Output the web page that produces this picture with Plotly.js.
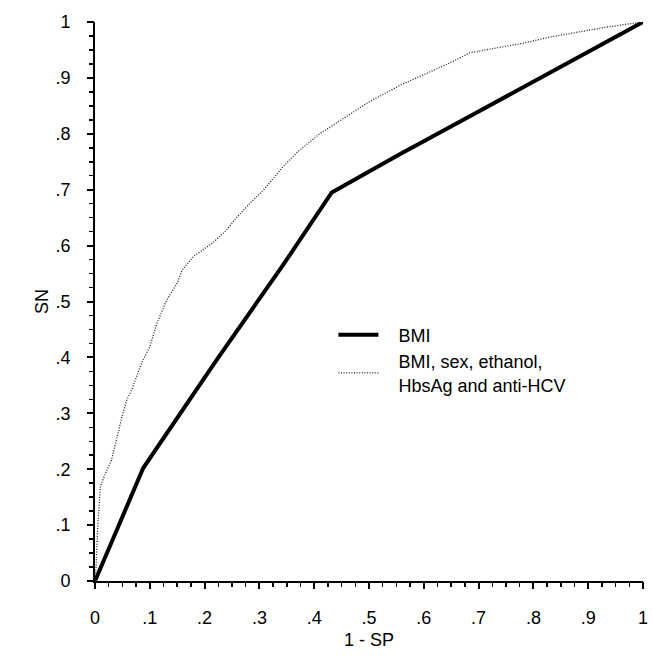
<!DOCTYPE html>
<html>
<head>
<meta charset="utf-8">
<script src="https://cdn.plot.ly/plotly-3.0.1.min.js"></script>
<style>html,body{margin:0;padding:0;background:#fff;}#chart{width:652px;height:670px;}</style>
</head>
<body>
<div id="chart"></div>
<script>
// ROC curve: BMI alone
var bmiX = [0, 0.088, 0.223, 0.343, 0.432, 0.557, 0.7, 0.85, 1.0];
var bmiY = [0, 0.202, 0.397, 0.565, 0.695, 0.764, 0.840, 0.920, 1.0];

// ROC curve: combined model
var combX = [0, 0.002, 0.005, 0.01, 0.018, 0.03, 0.04, 0.049, 0.058, 0.067, 0.085, 0.1, 0.113, 0.131, 0.15, 0.159, 0.179, 0.197, 0.215, 0.24, 0.259, 0.283, 0.307, 0.343, 0.369, 0.41, 0.45, 0.5, 0.557, 0.599, 0.648, 0.684, 0.739, 0.781, 0.83, 0.88, 0.934, 1.0];
var combY = [0, 0.025, 0.097, 0.17, 0.19, 0.216, 0.256, 0.293, 0.324, 0.342, 0.39, 0.419, 0.461, 0.503, 0.533, 0.556, 0.58, 0.592, 0.605, 0.628, 0.651, 0.676, 0.699, 0.741, 0.767, 0.80, 0.825, 0.857, 0.887, 0.905, 0.927, 0.945, 0.955, 0.962, 0.973, 0.982, 0.991, 1.0];

// tick label text (default label -> shown label)
var tickFrom = ['0.1', '0.2', '0.3', '0.4', '0.5', '0.6', '0.7', '0.8', '0.9'];
var tickTo = ['.1', '.2', '.3', '.4', '.5', '.6', '.7', '.8', '.9'];

var seriesNames = ['BMI', 'BMI, sex, ethanol,', 'HbsAg and anti-HCV'];

var alias = {};
tickFrom.forEach(function (f, i) { alias[f] = tickTo[i]; });

var font = {family: '"Liberation Sans", Arial, sans-serif', size: 18, color: '#000'};
var pad = '\u00a0\u00a0\u00a0';

var traces = [
  {x: bmiX, y: bmiY, mode: 'lines', name: pad + seriesNames[0],
   line: {color: '#000', width: 4}},
  {x: combX, y: combY, xaxis: 'x2', yaxis: 'y2', mode: 'lines',
   name: pad + seriesNames[1] + '<br>' + pad + seriesNames[2],
   line: {color: '#222', width: 1.3, dash: '1px,1.6px'}}
];

// main axis: line, minor ticks, labels (pushed out by long invisible major ticks) and title
function labelAxis(titleText) {
  return {
    range: [0, 1],
    tickmode: 'linear',
    tick0: 0,
    dtick: 0.1,
    labelalias: alias,
    ticks: 'outside',
    ticklen: 19,
    tickwidth: 2,
    tickcolor: 'rgba(0,0,0,0)',
    minor: {dtick: 0.025, ticks: 'outside', ticklen: 4, tickwidth: 1.5, tickcolor: '#000'},
    showline: true,
    linecolor: '#000',
    linewidth: 2,
    showgrid: false,
    zeroline: false,
    tickfont: font,
    title: {text: titleText, font: font}
  };
}

// overlaying axis drawing the visible major tick marks
function markAxis(over, anchor, side) {
  return {
    overlaying: over,
    anchor: anchor,
    side: side,
    range: [0, 1],
    tickmode: 'linear',
    tick0: 0,
    dtick: 0.1,
    ticks: 'outside',
    ticklen: 7,
    tickwidth: 2,
    tickcolor: '#000',
    showticklabels: false,
    showline: false,
    showgrid: false,
    zeroline: false
  };
}

var layout = {
  width: 652,
  height: 670,
  margin: {l: 95, r: 9, t: 22, b: 89},
  paper_bgcolor: '#fff',
  plot_bgcolor: '#fff',
  font: font,
  showlegend: true,
  legend: {x: 0.435, y: 0.473, xanchor: 'left', yanchor: 'top', bgcolor: 'rgba(0,0,0,0)',
           borderwidth: 0, font: font, itemwidth: 40, tracegroupgap: 0},
  xaxis: labelAxis('1 - SP'),
  yaxis: labelAxis('SN'),
  xaxis2: markAxis('x', 'y', 'bottom'),
  yaxis2: markAxis('y', 'x', 'left')
};

Plotly.newPlot('chart', traces, layout, {displayModeBar: false, staticPlot: true});
</script>
</body>
</html>
